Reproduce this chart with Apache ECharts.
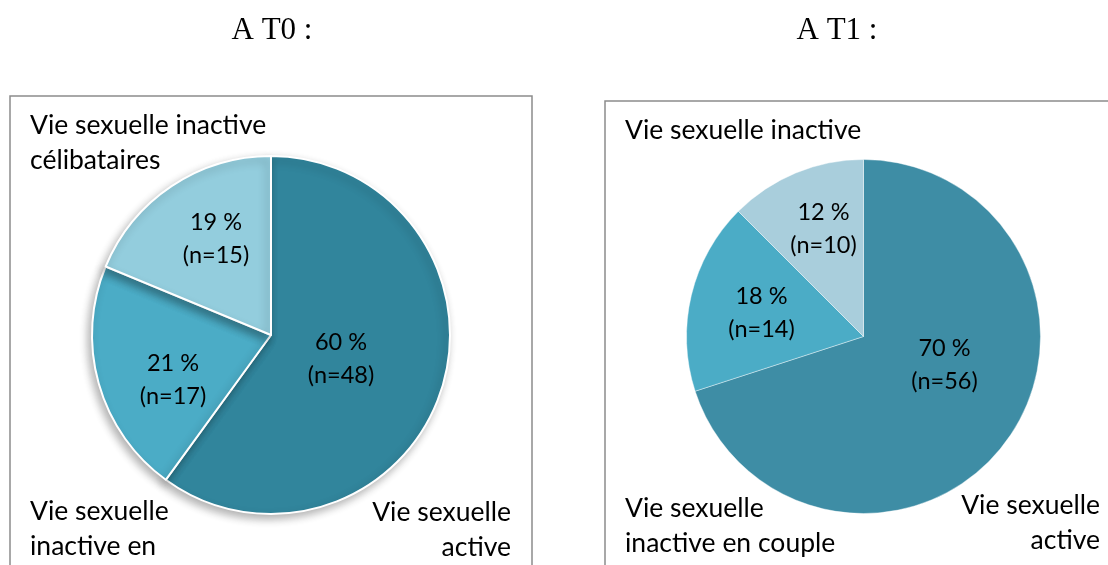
<!DOCTYPE html>
<html>
<head>
<meta charset="utf-8">
<script src="https://cdn.jsdelivr.net/npm/echarts@6/dist/echarts.min.js"></script>
<style>
  html, body { margin: 0; padding: 0; background: #fff; }
  #chart { width: 1108px; height: 565px; }
</style>
</head>
<body>
<div id="chart"></div>
<script>
// données
const titles = ["A T0 :", "A T1 :"];
const categoriesT0 = ["Vie sexuelle\nactive", "Vie sexuelle\ninactive en\ncouple", "Vie sexuelle inactive\ncélibataires"];
const categoriesT1 = ["Vie sexuelle\nactive", "Vie sexuelle\ninactive en couple", "Vie sexuelle inactive"];
const countsT0 = [48, 17, 15];
const countsT1 = [56, 14, 10];
const percentT0 = [60, 21, 19];
const percentT1 = [70, 18, 12];

const colorsT0 = ["#31859C", "#4BACC6", "#93CDDD"];
const colorsT1 = ["#3E8DA5", "#4BACC6", "#A9CEDC"];

const FONT = "Lato, 'Open Sans', sans-serif";

// positions des étiquettes internes (décalage depuis le centre)
const centerT0 = [271, 335];
const centerT1 = [863.5, 336.5];
const labelOffT0 = [[70, 24], [-98, 45], [-55, -96]];
const labelOffT1 = [[81, 28], [-102, -24], [-40, -108]];

function buildData(counts, pct, cats, colors) {
  return counts.map((v, i) => ({
    value: v,
    name: cats[i],
    pct: pct[i],
    itemStyle: { color: colors[i] },
  }));
}

function pieSeries(counts, pct, cats, colors, center, radius, offs, border) {
  return {
    type: "pie",
    center: center,
    radius: radius,
    startAngle: 90,
    clockwise: true,
    silent: true,
    animation: false,
    itemStyle: border,
    label: {
      show: true,
      position: "inside",
      fontFamily: FONT,
      fontSize: 23.5,
      lineHeight: 33,
      color: "#000",
      formatter: (p) => p.data.pct + " %\n(n=" + p.value + ")",
    },
    labelLine: { show: false },
    labelLayout: (p) => ({
      x: center[0] + offs[p.dataIndex][0],
      y: center[1] + offs[p.dataIndex][1],
      align: "center",
      verticalAlign: "middle",
    }),
    data: buildData(counts, pct, cats, colors),
  };
}

let myChart = echarts.init(document.getElementById("chart"));

// étiquettes de catégories (x, centre de la première ligne)
let catText = (text, x, yFirst, align) => ({
  type: "text",
  x: x,
  y: yFirst - 17.5,
  style: {
    text: text,
    font: "26.5px " + FONT,
    lineHeight: 35,
    fill: "#000",
    align: align,
    verticalAlign: "top",
  },
});

let option = {
  backgroundColor: "#fff",
  title: [
    { text: titles[0], left: 267, top: 10, textAlign: "center",
      textStyle: { fontFamily: "'Liberation Serif', serif", fontWeight: "normal", fontSize: 31, color: "#000" } },
    { text: titles[1], left: 832, top: 10, textAlign: "center",
      textStyle: { fontFamily: "'Liberation Serif', serif", fontWeight: "normal", fontSize: 31, color: "#000" } },
  ],
  graphic: [
    { type: "rect", shape: { x: 10, y: 96, width: 522, height: 520 }, style: { fill: "none", stroke: "#8C8C8C", lineWidth: 1.5 } },
    { type: "rect", shape: { x: 605, y: 101, width: 540, height: 520 }, style: { fill: "none", stroke: "#8C8C8C", lineWidth: 1.5 } },
    catText(categoriesT0[2], 30, 125, "left"),
    catText(categoriesT0[1], 30, 511, "left"),
    catText(categoriesT0[0], 511, 512, "right"),
    catText(categoriesT1[2], 625, 130, "left"),
    catText(categoriesT1[1], 625, 508, "left"),
    catText(categoriesT1[0], 1100, 505, "right"),
  ],
  series: [
    pieSeries(countsT0, percentT0, categoriesT0, colorsT0, centerT0, 179, labelOffT0, {
      borderColor: "#fff", borderWidth: 2,
      shadowBlur: 8, shadowOffsetX: -3, shadowOffsetY: 4, shadowColor: "rgba(0,0,0,0.3)",
    }),
    pieSeries(countsT1, percentT1, categoriesT1, colorsT1, centerT1, 177, labelOffT1, {
      borderColor: "rgba(255,255,255,0.5)", borderWidth: 0.8,
    }),
  ],
};

myChart.setOption(option);
</script>
</body>
</html>
